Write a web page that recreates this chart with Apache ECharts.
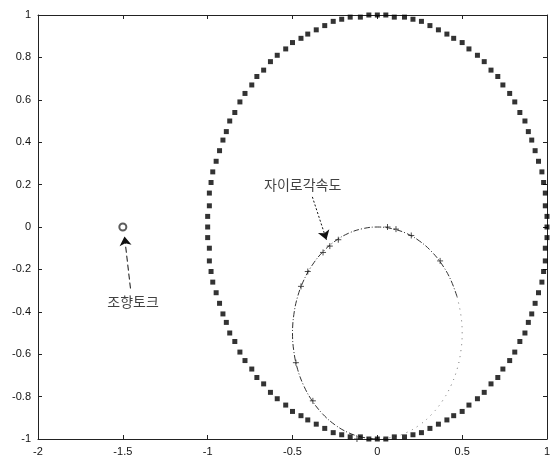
<!DOCTYPE html>
<html>
<head>
<meta charset="utf-8">
<script src="https://cdn.jsdelivr.net/npm/echarts@6/dist/echarts.min.js"></script>
<style>
  html, body { margin: 0; padding: 0; background: #fff; }
  #chart { width: 556px; height: 459px; }
</style>
</head>
<body>
<div id="chart"></div>
<script>
// axis ranges / ticks
const xMin = -2, xMax = 1, xStep = 0.5;
const yMin = -1, yMax = 1, yStep = 0.2;

// dotted unit circle (3 deg apart)
const unitCircle = [
  [1.00,0.00],[1.00,0.05],[0.99,0.10],[0.99,0.16],[0.98,0.21],[0.97,0.26],[0.95,0.31],[0.93,0.36],[0.91,0.41],[0.89,0.45],
  [0.87,0.50],[0.84,0.54],[0.81,0.59],[0.78,0.63],[0.74,0.67],[0.71,0.71],[0.67,0.74],[0.63,0.78],[0.59,0.81],[0.54,0.84],
  [0.50,0.87],[0.45,0.89],[0.41,0.91],[0.36,0.93],[0.31,0.95],[0.26,0.97],[0.21,0.98],[0.16,0.99],[0.10,0.99],[0.05,1.00],
  [0.00,1.00],[-0.05,1.00],[-0.10,0.99],[-0.16,0.99],[-0.21,0.98],[-0.26,0.97],[-0.31,0.95],[-0.36,0.93],[-0.41,0.91],[-0.45,0.89],
  [-0.50,0.87],[-0.54,0.84],[-0.59,0.81],[-0.63,0.78],[-0.67,0.74],[-0.71,0.71],[-0.74,0.67],[-0.78,0.63],[-0.81,0.59],[-0.84,0.54],
  [-0.87,0.50],[-0.89,0.45],[-0.91,0.41],[-0.93,0.36],[-0.95,0.31],[-0.97,0.26],[-0.98,0.21],[-0.99,0.16],[-0.99,0.10],[-1.00,0.05],
  [-1.00,0.00],[-1.00,-0.05],[-0.99,-0.10],[-0.99,-0.16],[-0.98,-0.21],[-0.97,-0.26],[-0.95,-0.31],[-0.93,-0.36],[-0.91,-0.41],[-0.89,-0.45],
  [-0.87,-0.50],[-0.84,-0.54],[-0.81,-0.59],[-0.78,-0.63],[-0.74,-0.67],[-0.71,-0.71],[-0.67,-0.74],[-0.63,-0.78],[-0.59,-0.81],[-0.54,-0.84],
  [-0.50,-0.87],[-0.45,-0.89],[-0.41,-0.91],[-0.36,-0.93],[-0.31,-0.95],[-0.26,-0.97],[-0.21,-0.98],[-0.16,-0.99],[-0.10,-0.99],[-0.05,-1.00],
  [0.00,-1.00],[0.05,-1.00],[0.10,-0.99],[0.16,-0.99],[0.21,-0.98],[0.26,-0.97],[0.31,-0.95],[0.36,-0.93],[0.41,-0.91],[0.45,-0.89],
  [0.50,-0.87],[0.54,-0.84],[0.59,-0.81],[0.63,-0.78],[0.67,-0.74],[0.71,-0.71],[0.74,-0.67],[0.78,-0.63],[0.81,-0.59],[0.84,-0.54],
  [0.87,-0.50],[0.89,-0.45],[0.91,-0.41],[0.93,-0.36],[0.95,-0.31],[0.97,-0.26],[0.98,-0.21],[0.99,-0.16],[0.99,-0.10],[1.00,-0.05]
];

// gyro angular velocity locus: clearly drawn part and faint part
const gyroMain = [
  [0.470,-0.329],[0.433,-0.250],[0.383,-0.179],[0.321,-0.117],[0.250,-0.067],[0.171,-0.030],[0.087,-0.008],[0.000,0.000],
  [-0.087,-0.008],[-0.171,-0.030],[-0.250,-0.067],[-0.321,-0.117],[-0.383,-0.179],[-0.433,-0.250],[-0.470,-0.329],
  [-0.492,-0.413],[-0.500,-0.500],[-0.492,-0.587],[-0.470,-0.671],[-0.433,-0.750],[-0.383,-0.821],[-0.321,-0.883],
  [-0.250,-0.933],[-0.171,-0.970],[-0.087,-0.992],[0.000,-1.000]
];
const gyroFaint = [
  [0.470,-0.329],[0.492,-0.413],[0.500,-0.500],[0.492,-0.587],[0.470,-0.671],[0.433,-0.750],[0.383,-0.821],
  [0.321,-0.883],[0.250,-0.933],[0.171,-0.970],[0.087,-0.992],[0.000,-1.000]
];
const gyroPlus = [
  [-0.45,-0.28],[-0.41,-0.21],[-0.32,-0.12],[-0.28,-0.09],[-0.23,-0.06],[0.11,-0.01],[0.20,-0.04],[0.37,-0.16],
  [-0.48,-0.64],[-0.38,-0.82],[0.06,0.00],[-0.12,-1.00]
];
const gyroBar = [[-0.13,-0.02]];

// steering torque point
const torquePoint = [[-1.5, 0]];

// annotations (text, anchor) and arrows (from, to)
const labelGyro = { text: '자이로각속도', at: [-0.44, 0.20] };
const labelTorque = { text: '조향토크', at: [-1.44, -0.35] };
const arrowGyro = [[-0.383, 0.142], [-0.30, -0.06]];
const arrowTorque = [[-1.455, -0.29], [-1.49, -0.045]];

const chart = echarts.init(document.getElementById('chart'), null, { renderer: 'canvas' });

const fmt = v => String(Math.round(v * 10) / 10);
const axisFont = { color: '#111', fontSize: 11, fontFamily: 'Liberation Sans, Arial, sans-serif' };
const frameLine = { show: true, onZero: false, lineStyle: { color: '#222', width: 1 } };
const inTick = { show: true, inside: true, length: 4, lineStyle: { color: '#222' } };
const plusPath = 'path://M0,5L10,5M5,0L5,10';
const barPath = 'path://M5,0L5,10';

const option = {
  backgroundColor: '#fff',
  animation: false,
  grid: { left: 38, right: 9, top: 15, bottom: 20, containLabel: false },
  xAxis: [
    {
      type: 'value', min: xMin, max: xMax, interval: xStep,
      axisLine: frameLine, axisTick: inTick,
      axisLabel: Object.assign({ margin: 7, formatter: fmt }, axisFont),
      splitLine: { show: false }
    },
    {
      type: 'value', position: 'top', min: xMin, max: xMax, interval: xStep,
      axisLine: frameLine, axisTick: inTick, axisLabel: { show: false }, splitLine: { show: false }
    }
  ],
  yAxis: [
    {
      type: 'value', min: yMin, max: yMax, interval: yStep,
      axisLine: frameLine, axisTick: inTick,
      axisLabel: Object.assign({ margin: 7, formatter: fmt }, axisFont),
      splitLine: { show: false }
    },
    {
      type: 'value', position: 'right', min: yMin, max: yMax, interval: yStep,
      axisLine: frameLine, axisTick: inTick, axisLabel: { show: false }, splitLine: { show: false }
    }
  ],
  series: [
    {
      name: 'unit circle', type: 'scatter', data: unitCircle,
      symbol: 'rect', symbolSize: 5,
      itemStyle: { color: '#000' }, z: 3
    },
    {
      name: 'gyro', type: 'line', data: gyroMain, smooth: 0.4,
      showSymbol: false, symbol: 'none',
      lineStyle: { color: '#333', width: 1, type: [6, 2, 1, 2] }, z: 2,
      markLine: {
        silent: true, symbol: ['none', 'arrow'], symbolSize: 9,
        label: { show: false },
        lineStyle: { color: '#111', width: 1, type: [2, 2] },
        data: [
          [{ coord: arrowGyro[0] }, { coord: arrowGyro[1] }],
          [{ coord: arrowTorque[0] }, { coord: arrowTorque[1], lineStyle: { type: [6, 3] } }]
        ]
      }
    },
    {
      name: 'gyro faint', type: 'line', data: gyroFaint, smooth: 0.4,
      showSymbol: false, symbol: 'none',
      lineStyle: { color: '#777', width: 1, type: [1, 5] }, z: 2
    },
    {
      name: 'gyro marks', type: 'scatter', data: gyroPlus,
      symbol: plusPath, symbolSize: 6,
      itemStyle: { color: 'transparent', borderColor: '#222', borderWidth: 1 }, z: 4
    },
    {
      name: 'gyro bar', type: 'scatter', data: gyroBar,
      symbol: barPath, symbolSize: 9,
      itemStyle: { color: 'transparent', borderColor: '#111', borderWidth: 1.5 }, z: 4
    },
    {
      name: 'torque', type: 'scatter', data: torquePoint,
      symbol: 'emptyCircle', symbolSize: 7,
      itemStyle: { color: '#333', borderColor: '#333', borderWidth: 1 }, z: 4
    },
    {
      name: 'labels', type: 'scatter',
      data: [
        { value: labelGyro.at, name: labelGyro.text },
        { value: labelTorque.at, name: labelTorque.text }
      ],
      symbolSize: 0,
      label: {
        show: true, position: 'inside', formatter: p => p.name,
        color: '#111', fontSize: 14,
        fontFamily: 'Noto Sans CJK KR, sans-serif'
      }, z: 5
    }
  ]
};

chart.setOption(option);
</script>
</body>
</html>
